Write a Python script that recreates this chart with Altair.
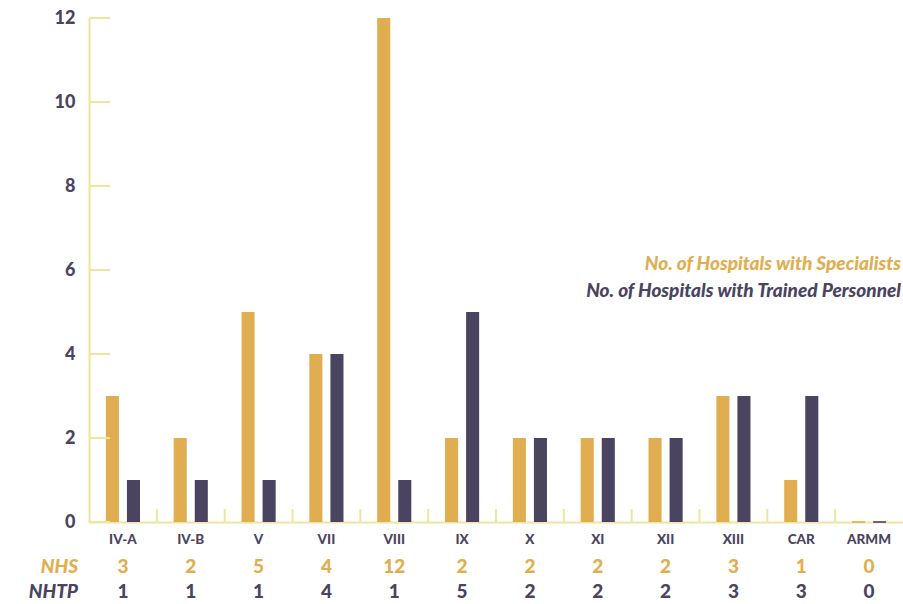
import altair as alt
import pandas as pd

regions = ["IV-A", "IV-B", "V", "VII", "VIII", "IX", "X", "XI", "XII", "XIII", "CAR", "ARMM"]
nhs = [3, 2, 5, 4, 12, 2, 2, 2, 2, 3, 1, 0]
nhtp = [1, 1, 1, 4, 1, 5, 2, 2, 2, 3, 3, 0]
series = ["No. of Hospitals with Specialists", "No. of Hospitals with Trained Personnel"]
row_labels = ["NHS", "NHTP"]
y_ticks = [0, 2, 4, 6, 8, 10, 12]

GOLD = "#E0AE50"
DARK = "#4A4461"
AXIS = "#EEE6A0"
FONT = "Lato"

rows = []
for r, a, b in zip(regions, nhs, nhtp):
    rows.append(dict(region=r, series=series[0], value=a, row=row_labels[0]))
    rows.append(dict(region=r, series=series[1], value=b, row=row_labels[1]))
df = pd.DataFrame(rows)

W, H = 814, 504
xscale = alt.Scale(domain=regions, paddingInner=0, paddingOuter=0)
yscale = alt.Scale(domain=[0, 12], nice=False)
cscale = alt.Scale(domain=series, range=[GOLD, DARK])
offscale = alt.Scale(domain=series, paddingInner=0.38, paddingOuter=0.8)

base = alt.Chart(df)

bars = base.mark_bar().encode(
    x=alt.X("region:N", scale=xscale, sort=regions, title=None,
            axis=alt.Axis(labelAngle=0, ticks=False, domainColor=AXIS, domainWidth=2,
                          labelFont=FONT, labelFontSize=13.5, labelFontWeight=900,
                          labelColor=DARK, labelPadding=10)),
    xOffset=alt.XOffset("series:N", scale=offscale, sort=series),
    y=alt.Y("value:Q", scale=yscale, title=None,
            axis=alt.Axis(values=y_ticks, ticks=False, grid=False, domainColor=AXIS, domainWidth=2,
                          labelFont=FONT, labelFontSize=18, labelFontWeight=900,
                          labelColor=DARK, labelPadding=14)),
    color=alt.Color("series:N", scale=cscale, legend=None),
)

zero_ticks = base.transform_filter("datum.value == 0").mark_tick(thickness=2, size=13, opacity=0.8).encode(
    x=alt.X("region:N", scale=xscale, sort=regions),
    xOffset=alt.XOffset("series:N", scale=offscale, sort=series),
    y=alt.Y("value:Q", scale=yscale),
    color=alt.Color("series:N", scale=cscale, legend=None),
)

ytick_df = pd.DataFrame({"v": y_ticks})
ytick_rules = alt.Chart(ytick_df).mark_rule(color=AXIS, strokeWidth=2).encode(
    y=alt.Y("v:Q", scale=yscale),
    x=alt.value(0),
    x2=alt.value(21),
)

band_df = pd.DataFrame({"region": regions[1:]})
band_rules = alt.Chart(band_df).mark_rule(color=AXIS, strokeWidth=2).encode(
    x=alt.X("region:N", scale=xscale, sort=regions, bandPosition=0),
    y=alt.value(H - 13),
    y2=alt.value(H),
)

layers = [bars, zero_ticks, ytick_rules, band_rules]

row_y = [549, 574]
for s, lab, yy, col in zip(series, row_labels, row_y, [GOLD, DARK]):
    vals = base.transform_filter(alt.datum.series == s).mark_text(
        font=FONT, fontSize=19, fontWeight=900, color=col, baseline="middle"
    ).encode(
        x=alt.X("region:N", scale=xscale, sort=regions),
        y=alt.value(yy),
        text="value:Q",
    )
    lab_chart = alt.Chart(pd.DataFrame({"label": [lab]})).mark_text(
        font=FONT, fontSize=19, fontWeight=900, fontStyle="italic", color=col,
        align="right", baseline="middle"
    ).encode(x=alt.value(-11), y=alt.value(yy), text="label:N")
    layers += [vals, lab_chart]

legend_y = [264 - 18, 291 - 18]
for s, yy, col in zip(series, legend_y, [GOLD, DARK]):
    leg = alt.Chart(pd.DataFrame({"label": [s]})).mark_text(
        font=FONT, fontSize=19, fontWeight=900, fontStyle="italic", color=col,
        align="right", baseline="middle"
    ).encode(x=alt.value(812), y=alt.value(yy), text="label:N")
    layers.append(leg)

chart = alt.layer(*layers).properties(
    width=W, height=H,
    autosize=alt.AutoSizeParams(type="none"),
    padding={"left": 89, "top": 18, "right": 0, "bottom": 82},
    background="white",
).configure_view(stroke=None)

chart.save("out.html", embed_options={"renderer": "svg", "actions": False})
